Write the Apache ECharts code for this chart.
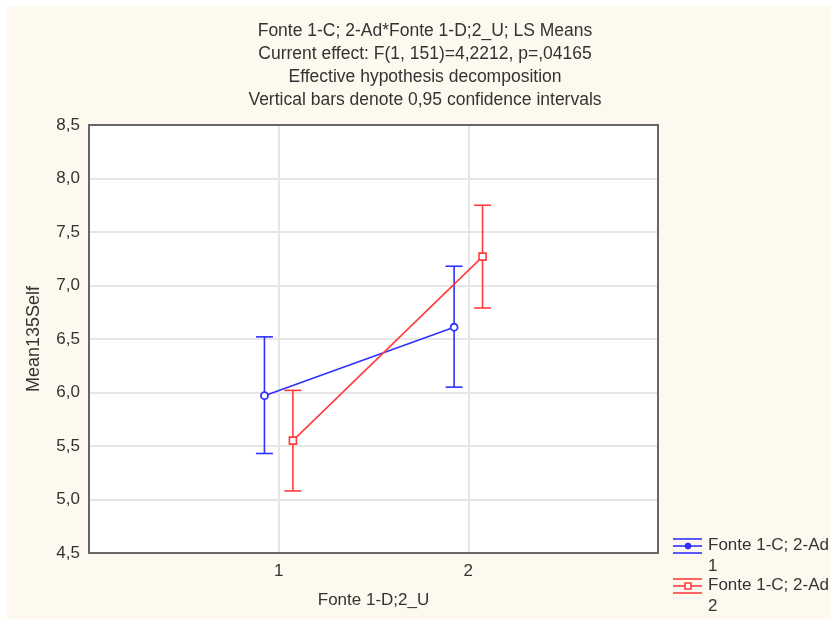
<!DOCTYPE html>
<html>
<head>
<meta charset="utf-8">
<script src="https://cdn.jsdelivr.net/npm/echarts@6/dist/echarts.min.js"></script>
<style>
html,body{margin:0;padding:0;background:#fff;}
#chart{width:831px;height:619px;}
</style>
</head>
<body>
<div id="chart"></div>
<script>
// ---- data ----
const categories = [1, 2];
const xTickLabels = ['1', '2'];
const yTickLabels = ['4,5','5,0','5,5','6,0','6,5','7,0','7,5','8,0','8,5'];
const seriesNames = ['Fonte 1-C; 2-Ad\n1', 'Fonte 1-C; 2-Ad\n2'];
const mean1 = [5.97, 6.61];
const low1  = [5.43, 6.05];
const high1 = [6.52, 7.18];
const mean2 = [5.55, 7.27];
const low2  = [5.08, 6.79];
const high2 = [6.02, 7.75];
const titleLines = [
  'Fonte 1-C; 2-Ad*Fonte 1-D;2_U; LS Means',
  'Current effect: F(1, 151)=4,2212, p=,04165',
  'Effective hypothesis decomposition',
  'Vertical bars denote 0,95 confidence intervals'
];
const xAxisName = 'Fonte 1-D;2_U';
const yAxisName = 'Mean135Self';

// ---- styling ----
const BLUE = '#3030ff';
const RED = '#ff3c3c';
const OFF = 0.075;
const FONT = '"Liberation Sans", Arial, sans-serif';
const GRID = { left: 89, top: 125, width: 569, height: 428 };

function pts(means, off) {
  return categories.map((c, i) => [c + off, means[i]]);
}
function bars(lows, highs, off) {
  return categories.map((c, i) => [c + off, lows[i], highs[i]]);
}
function errRender(color) {
  return function (params, api) {
    const x = api.value(0);
    const lo = api.coord([x, api.value(1)]);
    const hi = api.coord([x, api.value(2)]);
    const w = 8.5;
    const st = { stroke: color, lineWidth: 1.6 };
    return {
      type: 'group',
      children: [
        { type: 'line', shape: { x1: lo[0], y1: lo[1], x2: hi[0], y2: hi[1] }, style: st },
        { type: 'line', shape: { x1: lo[0] - w, y1: lo[1], x2: lo[0] + w, y2: lo[1] }, style: st },
        { type: 'line', shape: { x1: hi[0] - w, y1: hi[1], x2: hi[0] + w, y2: hi[1] }, style: st }
      ]
    };
  };
}

function legendItem(y, color, name, square) {
  const x0 = 673, x1 = 702, cx = 688;
  const st = { stroke: color, lineWidth: 1.6 };
  return {
    type: 'group',
    children: [
      { type: 'line', shape: { x1: x0, y1: y - 7, x2: x1, y2: y - 7 }, style: st },
      { type: 'line', shape: { x1: x0, y1: y, x2: x1, y2: y }, style: st },
      { type: 'line', shape: { x1: x0, y1: y + 7, x2: x1, y2: y + 7 }, style: st },
      square
        ? { type: 'rect', shape: { x: cx - 3, y: y - 3, width: 6, height: 6 }, style: { fill: '#fff', stroke: color, lineWidth: 1.6 } }
        : { type: 'circle', shape: { cx: cx, cy: y, r: 3 }, style: { fill: color, stroke: color, lineWidth: 1 } },
      { type: 'text', x: 708, y: y - 11, style: { text: name, font: '17px ' + FONT, fill: '#333', lineHeight: 21, textVerticalAlign: 'top' } }
    ]
  };
}

const chart = echarts.init(document.getElementById('chart'), null, { renderer: 'canvas' });
chart.setOption({
  animation: false,
  backgroundColor: '#fdf9ef',
  title: {
    text: titleLines.join('\n'),
    left: 420,
    top: 15,
    textAlign: 'center',
    textStyle: { fontFamily: FONT, fontSize: 17.5, fontWeight: 'normal', color: '#333', lineHeight: 23 }
  },
  grid: Object.assign({ show: true, backgroundColor: '#ffffff', borderWidth: 0 }, GRID),
  xAxis: {
    type: 'value', min: 0, max: 3, interval: 1,
    name: xAxisName, nameLocation: 'middle', nameGap: 39,
    nameTextStyle: { fontFamily: FONT, fontSize: 17, color: '#333' },
    axisLine: { show: false }, axisTick: { show: false },
    axisLabel: {
      margin: 10, fontFamily: FONT, fontSize: 17, color: '#333',
      formatter: v => { const i = categories.indexOf(v); return i >= 0 ? xTickLabels[i] : ''; }
    },
    splitLine: { show: true, lineStyle: { color: '#e6e6e6', width: 2 } }
  },
  yAxis: {
    type: 'value', min: 4.5, max: 8.5, interval: 0.5,
    name: yAxisName, nameLocation: 'middle', nameGap: 46, nameRotate: 90,
    nameTextStyle: { fontFamily: FONT, fontSize: 18, color: '#333' },
    axisLine: { show: false }, axisTick: { show: false },
    axisLabel: {
      margin: 9, fontFamily: FONT, fontSize: 17, color: '#333',
      formatter: v => yTickLabels[Math.round((v - 4.5) / 0.5)]
    },
    splitLine: { show: true, lineStyle: { color: '#e6e6e6', width: 2 } }
  },
  graphic: [
    { type: 'rect', shape: { x: 0, y: 0, width: 831, height: 6 }, style: { fill: '#fff' }, silent: true },
    { type: 'rect', shape: { x: 0, y: 0, width: 7, height: 619 }, style: { fill: '#fff' }, silent: true },
    { type: 'rect', z: 100, shape: { x: GRID.left, y: GRID.top, width: GRID.width, height: GRID.height }, style: { fill: 'none', stroke: '#666', lineWidth: 2 }, silent: true },
    legendItem(546, BLUE, seriesNames[0], false),
    legendItem(586, RED, seriesNames[1], true)
  ],
  series: [
    {
      type: 'custom', name: seriesNames[0], renderItem: errRender(BLUE),
      data: bars(low1, high1, -OFF), z: 2
    },
    {
      type: 'custom', name: seriesNames[1], renderItem: errRender(RED),
      data: bars(low2, high2, OFF), z: 2
    },
    {
      type: 'line', name: seriesNames[0], data: pts(mean1, -OFF),
      symbol: 'circle', symbolSize: 7,
      lineStyle: { color: BLUE, width: 1.6 },
      itemStyle: { color: '#fff', borderColor: BLUE, borderWidth: 1.8 }, z: 3
    },
    {
      type: 'line', name: seriesNames[1], data: pts(mean2, OFF),
      symbol: 'rect', symbolSize: 7,
      lineStyle: { color: RED, width: 1.6 },
      itemStyle: { color: '#fff', borderColor: RED, borderWidth: 1.6 }, z: 3
    }
  ]
});
</script>
</body>
</html>
